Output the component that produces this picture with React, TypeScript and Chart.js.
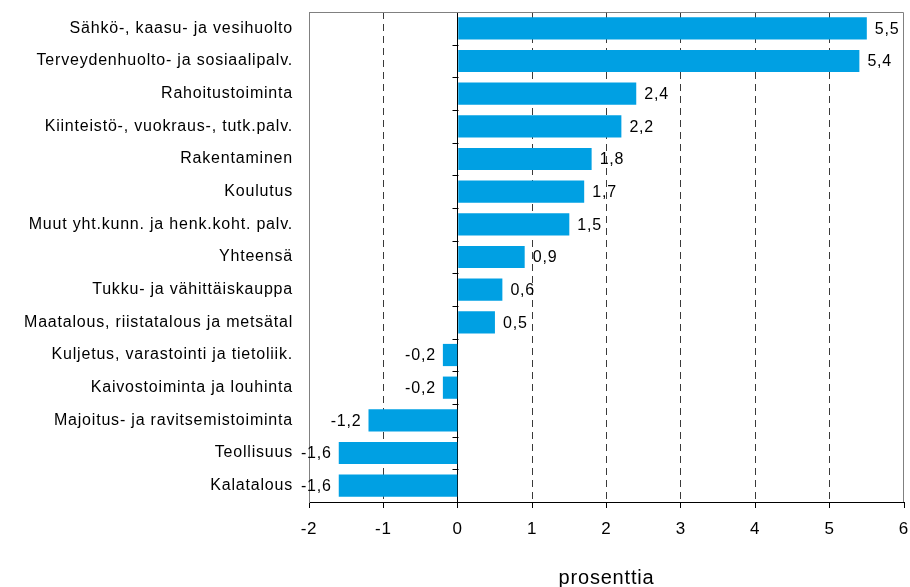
import React, { useEffect, useRef } from "react";
import { Chart, registerables } from "chart.js";

Chart.register(...registerables);

const categories = [
  "Sähkö-, kaasu- ja vesihuolto",
  "Terveydenhuolto- ja sosiaalipalv.",
  "Rahoitustoiminta",
  "Kiinteistö-, vuokraus-, tutk.palv.",
  "Rakentaminen",
  "Koulutus",
  "Muut yht.kunn. ja henk.koht. palv.",
  "Yhteensä",
  "Tukku- ja vähittäiskauppa",
  "Maatalous, riistatalous ja metsätal",
  "Kuljetus, varastointi ja tietoliik.",
  "Kaivostoiminta ja louhinta",
  "Majoitus- ja ravitsemistoiminta",
  "Teollisuus",
  "Kalatalous",
];

const values = [5.5, 5.4, 2.4, 2.2, 1.8, 1.7, 1.5, 0.9, 0.6, 0.5, -0.2, -0.2, -1.2, -1.6, -1.6];

const xMin = -2;
const xMax = 6;
const xStep = 1;
const axisTitle = "prosenttia";

const FONT = "'Liberation Sans', Arial, Helvetica, sans-serif";
const BAR_COLOR = "#00A0E3";

const fmt = (v: number) => v.toFixed(1).replace(".", ",");

const spacingPlugin = {
  id: "spacing",
  beforeUpdate(chart: any) {
    chart.ctx.letterSpacing = "0.8px";
  },
  beforeDraw(chart: any) {
    chart.ctx.letterSpacing = "0.8px";
  },
};

const decorPlugin = {
  id: "decor",
  afterDatasetsDraw(chart: any) {
    const { ctx, chartArea } = chart;
    const xs = chart.scales.x;
    const x0 = Math.round(xs.getPixelForValue(0)) + 0.5;
    const n = categories.length;
    const h = (chartArea.bottom - chartArea.top) / n;
    ctx.save();
    ctx.strokeStyle = "#000";
    ctx.lineWidth = 1;
    ctx.beginPath();
    for (let i = 0; i <= n; i++) {
      const y = Math.round(chartArea.top + i * h) + 0.5;
      ctx.moveTo(x0 - 6, y);
      ctx.lineTo(x0, y);
    }
    ctx.stroke();
    ctx.strokeStyle = "#808080";
    ctx.beginPath();
    const l = Math.round(chartArea.left) + 0.5;
    const r = Math.round(chartArea.right) - 0.5;
    const t = Math.round(chartArea.top) + 0.5;
    const b = Math.round(chartArea.bottom);
    ctx.moveTo(l, b);
    ctx.lineTo(l, t);
    ctx.lineTo(r, t);
    ctx.lineTo(r, b);
    ctx.stroke();
    ctx.fillStyle = "#000";
    ctx.font = `16px ${FONT}`;
    ctx.textBaseline = "middle";
    const meta = chart.getDatasetMeta(0);
    meta.data.forEach((el: any, i: number) => {
      const v = values[i];
      if (v >= 0) {
        ctx.textAlign = "left";
        ctx.fillText(fmt(v), el.x + 8, el.y + 1);
      } else {
        ctx.textAlign = "right";
        ctx.fillText(fmt(v), el.x - 7, el.y + 1);
      }
    });
    ctx.restore();
  },
  afterDraw(chart: any) {
    const { ctx, chartArea } = chart;
    ctx.save();
    ctx.fillStyle = "#000";
    ctx.font = `20px ${FONT}`;
    ctx.textAlign = "center";
    ctx.textBaseline = "alphabetic";
    ctx.fillText(axisTitle, (chartArea.left + chartArea.right) / 2, 584);
    ctx.restore();
  },
};

export default function App() {
  const ref = useRef<HTMLCanvasElement | null>(null);

  useEffect(() => {
    if (!ref.current) return;
    const chart = new Chart(ref.current, {
      type: "bar",
      data: {
        labels: categories,
        datasets: [
          {
            data: values,
            backgroundColor: BAR_COLOR,
            borderWidth: 0,
            barPercentage: 0.68,
            categoryPercentage: 1,
          },
        ],
      },
      plugins: [spacingPlugin, decorPlugin],
      options: {
        indexAxis: "y",
        responsive: false,
        animation: false,
        devicePixelRatio: 1,
        layout: { padding: { top: 12, right: 6, left: 0, bottom: 0 } },
        plugins: {
          legend: { display: false },
          tooltip: { enabled: false },
          title: { display: false },
        },
        scales: {
          x: {
            type: "linear",
            min: xMin,
            max: xMax,
            ticks: {
              stepSize: xStep,
              color: "#000",
              padding: 11,
              font: { family: FONT, size: 17 },
              callback: (v: any) => String(v).replace(".", ","),
            },
            grid: {
              color: (c: any) => {
                const v = c.tick ? c.tick.value : null;
                if (v === xMin || v === xMax) return "rgba(0,0,0,0)";
                return v === 0 ? "#000" : "#3a3a3a";
              },
              lineWidth: 1,
              tickLength: 6,
              tickColor: "#000",
              drawTicks: true,
            },
            border: {
              display: true,
              color: "#000",
              width: 1,
              dash: (c: any) => (c.tick && c.tick.value === 0 ? [] : [7, 5]),
            },
            afterFit: (s: any) => {
              s.height = 85;
              s.paddingLeft = 0;
              s.paddingRight = 0;
            },
          },
          y: {
            type: "category",
            ticks: {
              color: "#000",
              padding: 16,
              autoSkip: false,
              font: { family: FONT, size: 16 },
            },
            grid: { display: false, drawTicks: false },
            border: { display: true, color: "#808080", width: 1 },
            afterFit: (s: any) => {
              s.width = 309;
              s.paddingTop = 0;
              s.paddingBottom = 0;
            },
          },
        },
      } as any,
    });
    return () => chart.destroy();
  }, []);

  return (
    <div style={{ position: "fixed", left: 0, top: 0, width: 910, height: 587, background: "#fff" }}>
      <canvas ref={ref} width={910} height={587} style={{ width: 910, height: 587, display: "block" }} />
    </div>
  );
}
